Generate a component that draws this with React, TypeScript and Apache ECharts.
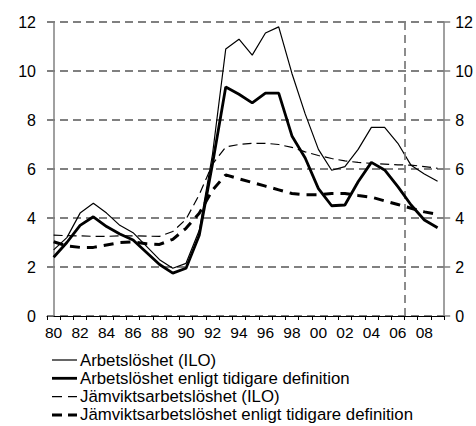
import React, { useEffect, useRef } from "react";
import * as echarts from "echarts";

const years = ["80","81","82","83","84","85","86","87","88","89","90","91","92","93","94","95","96","97","98","99","00","01","02","03","04","05","06","07","08","09"];

const ilo = [2.7,3.2,4.2,4.6,4.2,3.7,3.4,2.85,2.3,1.95,2.15,3.5,6.6,10.9,11.3,10.65,11.55,11.8,9.9,8.25,6.8,5.95,6.1,6.8,7.7,7.7,7.05,6.15,5.8,5.5];
const iloOld = [2.4,3.0,3.7,4.05,3.65,3.35,3.1,2.6,2.1,1.75,1.95,3.3,6.2,9.35,9.05,8.7,9.1,9.1,7.35,6.45,5.2,4.5,4.53,5.48,6.27,5.96,5.28,4.53,3.92,3.6];
const eqIlo = [3.3,3.28,3.27,3.25,3.25,3.27,3.27,3.26,3.25,3.45,3.95,4.95,6.2,6.9,7.0,7.05,7.05,7.0,6.88,6.7,6.55,6.43,6.33,6.27,6.23,6.2,6.17,6.16,6.1,6.03];
const eqOld = [3.03,2.86,2.8,2.8,2.9,3.0,3.03,2.95,2.92,3.13,3.58,4.19,5.14,5.76,5.6,5.45,5.3,5.15,5.0,4.95,4.95,5.0,5.0,4.92,4.85,4.7,4.55,4.4,4.25,4.15];

const seriesNames = [
  "Arbetslöshet (ILO)",
  "Arbetslöshet enligt tidigare definition",
  "Jämviktsarbetslöshet (ILO)",
  "Jämviktsarbetslöshet enligt tidigare definition",
];

const forecastBoundaryIndex = 26.5;
const yMin = 0;
const yMax = 12;
const yInterval = 2;

const FONT = "Liberation Sans, Arial, sans-serif";
const GRID_GRAY = "#808080";

const lineStyles = [
  { width: 1.2, type: "solid" as any },
  { width: 2.8, type: "solid" as any },
  { width: 1.2, type: [9, 5] as any },
  { width: 3, type: [10, 7] as any },
];
const legendDash = [null, null, [10, 6], [10, 6]];

export default function App() {
  const ref = useRef<HTMLDivElement>(null);
  useEffect(() => {
    if (!ref.current) return;
    const chart = echarts.init(ref.current, null, { renderer: "svg" });
    const yAxisCommon = {
      type: "value",
      min: yMin,
      max: yMax,
      interval: yInterval,
      axisLine: { show: true, lineStyle: { color: GRID_GRAY, width: 1.5 } },
      axisTick: { show: true, inside: false, length: 6, lineStyle: { color: GRID_GRAY, width: 1.5 } },
      axisLabel: { color: "#000", fontSize: 16, fontFamily: FONT, margin: 11 },
    };

    const legendTop = 360;
    const legendStep = 18.3;
    const legendElements: any[] = [];
    seriesNames.forEach((name, i) => {
      const y = legendTop + i * legendStep;
      legendElements.push({
        type: "line",
        shape: { x1: 52, y1: y, x2: 77, y2: y },
        style: {
          stroke: "#000",
          lineWidth: lineStyles[i].width,
          lineDash: legendDash[i] || undefined,
        },
        silent: true,
      });
      legendElements.push({
        type: "text",
        x: 80,
        y: y,
        style: {
          text: name,
          fill: "#000",
          fontSize: 16.8,
          fontFamily: FONT,
          verticalAlign: "middle",
          align: "left",
        },
        silent: true,
      });
    });

    chart.setOption({
      animation: false,
      backgroundColor: "#fff",
      textStyle: { fontFamily: FONT },
      grid: { left: 47, right: 31, top: 22, bottom: 110, containLabel: false },
      graphic: legendElements,
      xAxis: [
        {
          type: "category",
          data: years,
          boundaryGap: true,
          axisLine: { show: true, onZero: false, lineStyle: { color: "#000", width: 1 } },
          axisTick: { show: true, interval: 0, alignWithLabel: false, length: 4, lineStyle: { color: "#000" } },
          axisLabel: { interval: 1, color: "#000", fontSize: 15.5, fontFamily: FONT, margin: 8 },
          splitLine: { show: false },
        },
        {
          type: "value",
          min: -0.5,
          max: years.length - 0.5,
          show: false,
          splitLine: { show: false },
        },
      ],
      yAxis: [
        {
          ...yAxisCommon,
          position: "left",
          splitLine: { show: true, lineStyle: { color: GRID_GRAY, width: 1.8, type: [8, 5] } },
        },
        {
          ...yAxisCommon,
          position: "right",
          splitLine: { show: false },
        },
      ],
      series: [
        {
          name: seriesNames[0],
          type: "line",
          data: ilo,
          symbol: "none",
          lineStyle: { color: "#000", ...lineStyles[0] },
          z: 4,
        },
        {
          name: seriesNames[1],
          type: "line",
          data: iloOld,
          symbol: "none",
          lineStyle: { color: "#000", ...lineStyles[1] },
          z: 5,
        },
        {
          name: seriesNames[2],
          type: "line",
          data: eqIlo,
          symbol: "none",
          lineStyle: { color: "#000", ...lineStyles[2] },
          z: 3,
        },
        {
          name: seriesNames[3],
          type: "line",
          data: eqOld,
          symbol: "none",
          lineStyle: { color: "#000", ...lineStyles[3] },
          z: 3,
        },
        {
          name: "forecast",
          type: "line",
          xAxisIndex: 1,
          yAxisIndex: 0,
          data: [],
          symbol: "none",
          silent: true,
          markLine: {
            silent: true,
            symbol: "none",
            label: { show: false },
            lineStyle: { color: GRID_GRAY, width: 1.8, type: [8, 5] },
            data: [
              [
                { coord: [forecastBoundaryIndex, yMin] },
                { coord: [forecastBoundaryIndex, yMax] },
              ],
            ],
          },
        },
      ],
    });
    return () => chart.dispose();
  }, []);
  return <div ref={ref} style={{ width: 476, height: 426, position: "absolute", left: 0, top: 0 }} />;
}
